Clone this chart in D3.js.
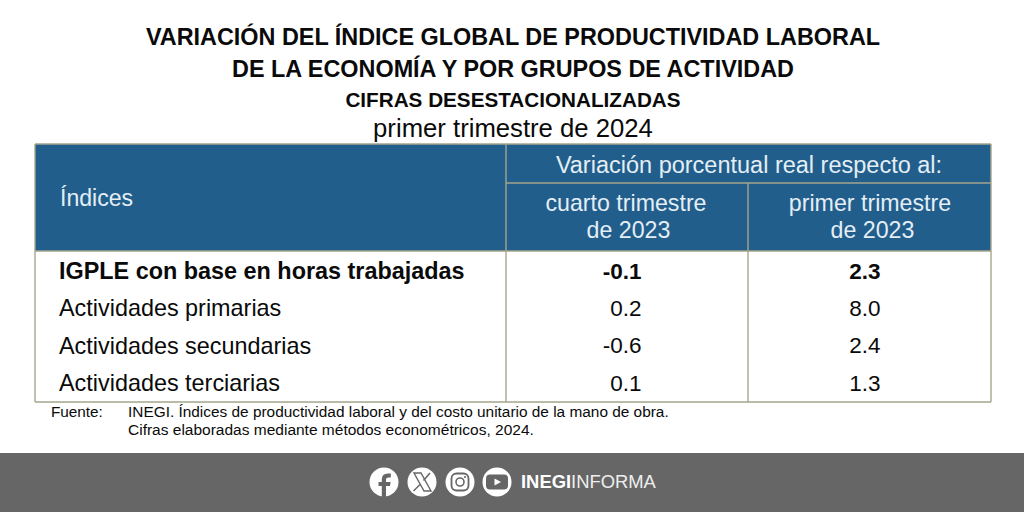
<!DOCTYPE html>
<html><head><meta charset="utf-8">
<script src="https://cdn.jsdelivr.net/npm/d3@7"></script>
<style>html,body{margin:0;padding:0;background:#fff}svg{display:block}text{font-family:"Liberation Sans",Arial,sans-serif}</style>
</head><body><svg id="c" width="1024" height="512"></svg>
<script>
const titleLines = ["VARIACIÓN DEL ÍNDICE GLOBAL DE PRODUCTIVIDAD LABORAL","DE LA ECONOMÍA Y POR GRUPOS DE ACTIVIDAD"];
const subtitle = "CIFRAS DESESTACIONALIZADAS";
const period = "primer trimestre de 2024";
const rowHeader = "Índices";
const spanHeader = "Variación porcentual real respecto al:";
const colHeaders = [["cuarto trimestre","de 2023"],["primer trimestre","de 2023"]];
const categories = ["IGPLE con base en horas trabajadas","Actividades primarias","Actividades secundarias","Actividades terciarias"];
const vsPrevQuarter = [-0.1,0.2,-0.6,0.1];
const vsPrevYear = [2.3,8.0,2.4,1.3];
const sourceLabel = "Fuente:";
const sourceLines = ["INEGI. Índices de productividad laboral y del costo unitario de la mano de obra.","Cifras elaboradas mediante métodos econométricos, 2024."];
const brandBold = "INEGI", brandLight = "INFORMA";

const svg = d3.select("#c");
const blue="#215e8c", rule="#a5a58d", ink="#0a0a0a", head="#e4eef5";
const y = d3.scalePoint().domain(categories).range([272.7,384.7]);
const colX = d3.scaleOrdinal().domain([0,1]).range([641,880]);
const colC = [626,870];
const fmt = v => v.toFixed(1);
const T=(x,y,s,size,o={})=>svg.append("text").attr("x",x).attr("y",y).text(s)
  .attr("font-size",size).attr("fill",o.fill||ink).attr("text-anchor",o.anchor||"start")
  .attr("font-weight",o.weight||"normal").attr("dominant-baseline","middle");

T(513,38.7,titleLines[0],23.4,{anchor:"middle",weight:"bold"});
T(513,71,titleLines[1],23.4,{anchor:"middle",weight:"bold"});
T(513,101.5,subtitle,20.7,{anchor:"middle",weight:"bold"});
T(513,130.5,period,25.7,{anchor:"middle"});

svg.append("rect").attr("x",35).attr("y",144).attr("width",956).attr("height",107).attr("fill",blue);
const L=(x1,y1,x2,y2)=>svg.append("line").attr("x1",x1).attr("y1",y1).attr("x2",x2).attr("y2",y2).attr("stroke",rule).attr("stroke-width",1.4);
L(35,144,991,144);L(35,144,35,402);L(991,144,991,402);L(35,402,991,402);L(35,251,991,251);
L(506,144,506,402);L(506,183,991,183);L(748,183,748,402);

T(60,200,rowHeader,23.1,{fill:head});
T(749,166.5,spanHeader,23.5,{anchor:"middle",fill:head});
colHeaders.forEach((ls,i)=>ls.forEach((s,j)=>T(colC[i]+j*2.5,205+j*27,s,23.2,{anchor:"middle",fill:head})));

categories.forEach((c,i)=>{
  const w=i===0?"bold":"normal";
  T(59,y(c),c,23.4,{weight:w});
  T(colX(0)+0.5,y(c),fmt(vsPrevQuarter[i]),22.5,{anchor:"end",weight:w});
  T(colX(1)+0.5,y(c),fmt(vsPrevYear[i]),22.5,{anchor:"end",weight:w});
});

T(51,412.5,sourceLabel,15.3);
T(128,412.5,sourceLines[0],15.4);
T(128,430.5,sourceLines[1],15.5);

svg.append("rect").attr("x",0).attr("y",453).attr("width",1024).attr("height",59).attr("fill","#666667");
const cy=482, w="#fff", g="#666667";
[384,422,460,497].forEach(cx=>svg.append("circle").attr("cx",cx).attr("cy",cy).attr("r",14.5).attr("fill",w));
// facebook
svg.append("path").attr("d","M386 497 V486 H390 L390.6 482 H386 V479.5 Q386 477.5 388.5 477.5 H390.8 V473.5 H387.8 Q381.8 473.5 381.8 479.5 V482 H378.5 V486 H381.8 V497 Z").attr("fill",g);
// X
svg.append("path").attr("d","M414 473 L421 473 L431 491 L424 491 Z").attr("fill","none").attr("stroke",g).attr("stroke-width",1.4);
svg.append("path").attr("d","M430 473 L423.5 480.5 M420 484.5 L413.5 491").attr("fill","none").attr("stroke",g).attr("stroke-width",1.5);
// instagram
svg.append("rect").attr("x",451.5).attr("y",473.5).attr("width",17).attr("height",17).attr("rx",5).attr("fill","none").attr("stroke",g).attr("stroke-width",1.8);
svg.append("circle").attr("cx",460).attr("cy",482).attr("r",4).attr("fill","none").attr("stroke",g).attr("stroke-width",1.6);
svg.append("circle").attr("cx",465).attr("cy",477).attr("r",1.1).attr("fill",g);
// youtube
svg.append("rect").attr("x",486).attr("y",474.5).attr("width",22).attr("height",15).attr("rx",4).attr("fill",g);
svg.append("path").attr("d","M494.5 478.5 L501 482 L494.5 485.5 Z").attr("fill",w);
const b=svg.append("text").attr("x",521).attr("y",482.5).attr("dominant-baseline","middle").attr("font-size",18.4).attr("fill","#fff");
b.append("tspan").attr("font-weight","bold").text(brandBold);
b.append("tspan").attr("font-weight","normal").attr("fill","#eee").text(brandLight);
</script></body></html>
